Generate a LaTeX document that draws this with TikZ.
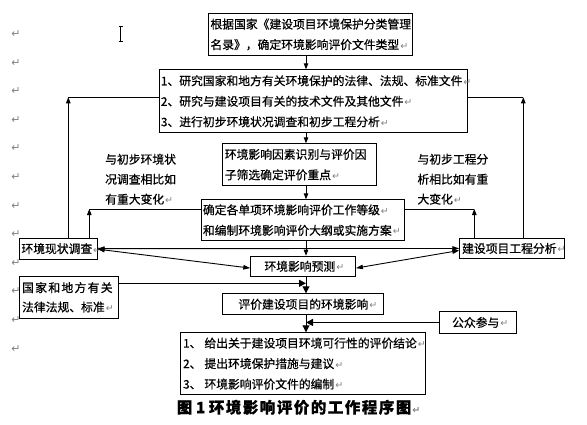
\documentclass[tikz,border=0pt]{standalone}
\usepackage{fontspec}
\setmainfont{Noto Sans CJK SC}[FakeBold=0.6]
\newfontfamily\dvfont{DejaVu Sans}
\usetikzlibrary{arrows.meta}
\newcommand{\pmk}{\rlap{\kern1pt\textcolor{gray}{\dvfont\fontsize{9.5}{9.5}\selectfont ↵}}}
\newcommand{\capk}{\kern1.5pt}
\newcommand{\lawk}{\kern1.3pt}
\tikzset{
 box/.style={draw, line width=0.9pt, anchor=north west, inner ysep=0pt, align=left, font=\fontsize{11.8}{20.5}\selectfont},
 conn/.style={line width=0.9pt},
 arr/.style={conn, -{Triangle[width=4.5pt,length=6pt]}},
 arrB/.style={conn, -{Triangle[width=7pt,length=7pt]}},
 dbl/.style={conn, {Triangle[width=4.5pt,length=7pt]}-{Triangle[width=4.5pt,length=7pt]}},
 ann/.style={anchor=west, inner sep=0pt, align=left, font=\fontsize{11.8}{20}\selectfont},
 pmark/.style={inner sep=0pt, text=gray, font=\dvfont\fontsize{11}{11}\selectfont},
}
\begin{document}
\begin{tikzpicture}[x=1pt,y=-1pt]
\useasboundingbox (0,0) rectangle (587,424);

% paragraph marks in the margin
\foreach \i in {0,...,11} \node[pmark] (m\i) at (16,{34+28.6*\i}) {↵};

% text cursor
\coordinate (cur) at (120.7,34.2);
\draw[line width=0.7pt] ([yshift=7.5pt]cur) -- ([yshift=-7.5pt]cur);
\draw[line width=0.6pt] ([xshift=-2.2pt,yshift=7.5pt]cur) -- ([xshift=2.2pt,yshift=7.5pt]cur);
\draw[line width=0.6pt] ([xshift=-2.2pt,yshift=-7.5pt]cur) -- ([xshift=2.2pt,yshift=-7.5pt]cur);

% boxes
\node[box, inner xsep=2pt, text width=200pt, minimum height=42pt] (b1) at (208,13)
 {根据国家《建设项目环境保护分类管理\\名录》，确定环境影响评价文件类型\pmk};
\node[box, inner xsep=1.5pt, text width=305pt, minimum height=63pt] (b2) at (159,69.3)
 {1、研究国家和地方有关环境保护的法律、法规、标准文件\pmk\\2、研究与建设项目有关的技术文件及其他文件\pmk\\3、进行初步环境状况调查和初步工程分析\pmk};
\node[box, inner xsep=2pt, text width=149.6pt, minimum height=41.7pt] (b3) at (222.4,143.3)
 {环境影响因素识别与评价因\\子筛选确定评价重点\pmk};
\node[box, inner xsep=1.5pt, text width=200.3pt, minimum height=40.7pt] (b4) at (201,199.3)
 {确定各单项环境影响评价工作等级\pmk\\和编制环境影响评价大纲或实施方案\pmk};
\node[box, inner xsep=13.7pt, text width=77.3pt, minimum height=20.3pt] (b5) at (250.3,255.7)
 {环境影响预测\pmk};
\node[box, inner xsep=15.7pt, text width=129.6pt, minimum height=21pt] (b6) at (222.3,293.3)
 {评价建设项目的环境影响\pmk};
\node[box, inner xsep=2.7pt, text width=239.6pt, minimum height=61.7pt] (b7) at (180,332.3)
 {\makebox[21.3pt][l]{1、}给出关于建设项目环境可行性的评价结论\pmk\\\makebox[21.3pt][l]{2、}提出环境保护措施与建议\pmk\\\makebox[21.3pt][l]{3、}环境影响评价文件的编制\pmk};
\node[box, inner xsep=1.7pt, text width=74pt, minimum height=21pt] (env) at (19.3,237.7)
 {环境现状调查\pmk};
\node[box, inner xsep=2.4pt, text width=99.9pt, minimum height=20.6pt] (eng) at (459.3,237.7)
 {建设项目工程分析\pmk};
\node[box, inner xsep=2.4pt, text width=93.6pt, minimum height=41.7pt, font=\fontsize{11.8}{19.4}\selectfont] (law) at (19.3,276)
 {国\lawk 家\lawk 和\lawk 地\lawk 方\lawk 有\lawk 关\\法律法规、标准\pmk};
\node[box, inner xsep=12.4pt, text width=51.9pt, minimum height=21.4pt] (pub) at (439.3,311.3)
 {公众参与\pmk};

% annotations
\node[ann] (al) at (105,179.2) {与初步环境状\\况调查相比如\\有重大变化\pmk};
\node[ann] (ar) at (417.3,179.2) {与初步工程分\\析相比如有重\\大变化\pmk};

% caption
\node[anchor=west, inner sep=0pt, font=\fontsize{15.5}{15.5}\selectfont\bfseries] (cap) at (176.7,407.3)
 {图\kern3.5pt 1\kern3.5pt 环\capk 境\capk 影\capk 响\capk 评\capk 价\capk 的\capk 工\capk 作\capk 程\capk 序\capk 图\pmk};

% main spine
\coordinate (sp) at (306,0);
\draw[arr] (b1.south -| sp) -- (b2.north -| sp);
\draw[arr] (b2.south -| sp) -- (b3.north -| sp);
\draw[arr] (b3.south -| sp) -- (b4.north -| sp);
\draw[arr] (b4.south -| sp) -- (b5.north -| sp);
\draw[arrB] (b5.south -| sp) -- (b6.north -| sp);
\draw[arrB] (b6.south -| sp) -- (b7.north -| sp);

% feedback loops
\coordinate (lo) at (68.3,97.3);
\coordinate (li) at (89.3,209);
\coordinate (ro) at (523.3,97.3);
\coordinate (ri) at (474.3,209);
\draw[arr] (env.north -| lo) -- (lo);
\draw[conn] (lo) -- (lo -| b2.west);
\draw[arr] (env.north -| li) -- (li);
\draw[conn] (li) -- (li -| b4.west);
\draw[arr] (eng.north -| ro) -- (ro);
\draw[conn] (ro) -- (ro -| b2.east);
\draw[arr] (eng.north -| ri) -- (ri);
\draw[conn] (ri) -- (ri -| b4.east);

% two-way links
\draw[dbl] (env.east) -- (eng.west);
\draw[dbl] ([yshift=-0.5pt]env.east) -- ([yshift=-1.8pt]b5.west);
\draw[dbl] ([yshift=-1.8pt]b5.east) -- ([yshift=-2pt]eng.west);

% inputs
\coordinate (lawy) at (0,283.3);
\draw[arrB] (law.east |- lawy) -- (sp |- lawy);
\draw[arrB] (pub.west) -- (pub.west -| sp);
\end{tikzpicture}
\end{document}
